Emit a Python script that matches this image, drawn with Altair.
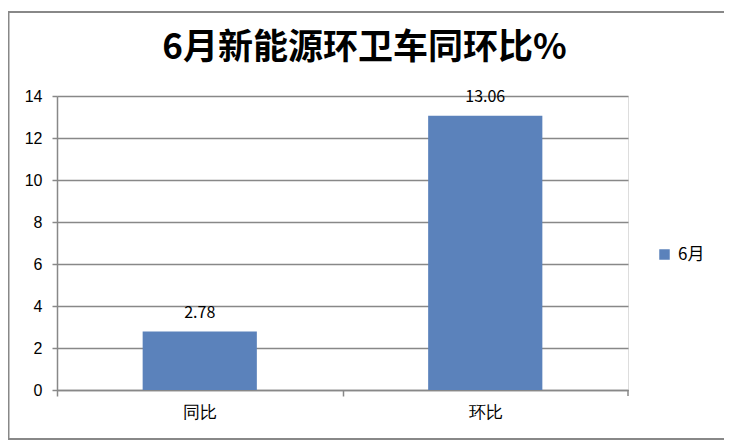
import altair as alt
import pandas as pd

categories = ["同比", "环比"]
values = [2.78, 13.06]
series = ["6月", "6月"]
y_ticks = [0, 2, 4, 6, 8, 10, 12, 14]

df = pd.DataFrame({"cat": categories, "value": values, "series": series})

FONT = "Noto Sans CJK SC"
BLUE = "#5b82bb"
GRAY = "#888888"
HALF_STEP = 142.75

x_enc = alt.X(
    "cat:N",
    sort=categories,
    scale=alt.Scale(paddingInner=0.6, paddingOuter=0.3),
    axis=alt.Axis(
        title=None, labelAngle=0, tickOffset=-HALF_STEP, labelOffset=HALF_STEP,
        tickSize=6, grid=False,
        labelFontSize=17, labelPadding=8, labelColor="#000000",
        domainColor=GRAY, tickColor=GRAY, domainWidth=1.5, tickWidth=1.5,
    ),
)
y_enc = alt.Y(
    "value:Q",
    scale=alt.Scale(domain=[0, 14], nice=False),
    axis=alt.Axis(
        title=None, values=y_ticks, tickSize=5, grid=True, gridColor=GRAY,
        gridWidth=1.5, domainColor=GRAY, tickColor=GRAY, domainWidth=1.5,
        tickWidth=1.5, labelFontSize=16, labelPadding=10, labelColor="#000000",
    ),
)

base = alt.Chart(df)

bars = base.mark_bar(color=BLUE).encode(
    x=x_enc,
    y=y_enc,
    color=alt.Color(
        "series:N",
        scale=alt.Scale(range=[BLUE]),
        legend=alt.Legend(
            title=None, orient="none", legendX=599, legendY=150, padding=0,
            symbolType="square", symbolSize=110, symbolStrokeWidth=0,
            labelOffset=5,
            labelFontSize=17, labelColor="#000000", labelFont=FONT,
        ),
    ),
)

labels = base.mark_text(dy=-19, fontSize=16, font=FONT, color="#000000").encode(
    x=alt.X("cat:N", sort=categories),
    y="value:Q",
    text=alt.Text("value:Q", format=".2f"),
)

one = pd.DataFrame({"a": [0]})

end_tick = alt.Chart(one).mark_rule(color=GRAY, strokeWidth=1.5).encode(
    x=alt.value(571), y=alt.value(294), y2=alt.value(300)
)

border = alt.Chart(one).mark_rect(
    filled=False, stroke=GRAY, strokeWidth=2, clip=False
).encode(
    x=alt.value(-48.5), x2=alt.value(668), y=alt.value(-84), y2=alt.value(343)
)

chart = alt.layer(bars, labels, end_tick, border).properties(
    width=571,
    height=294,
    padding={"left": 49, "top": 88, "right": 96, "bottom": 50},
    autosize=alt.AutoSizeParams(type="none"),
    title=alt.Title(
        "6月新能源环卫车同环比%", fontSize=35, fontWeight="bold", font=FONT,
        anchor="middle", frame="group", dx=22, offset=-55, color="#000000",
    ),
).configure_view(stroke=None).configure_axis(labelFont=FONT).configure(background="white")

chart.save("out.html", embed_options={"renderer": "svg", "actions": False})
